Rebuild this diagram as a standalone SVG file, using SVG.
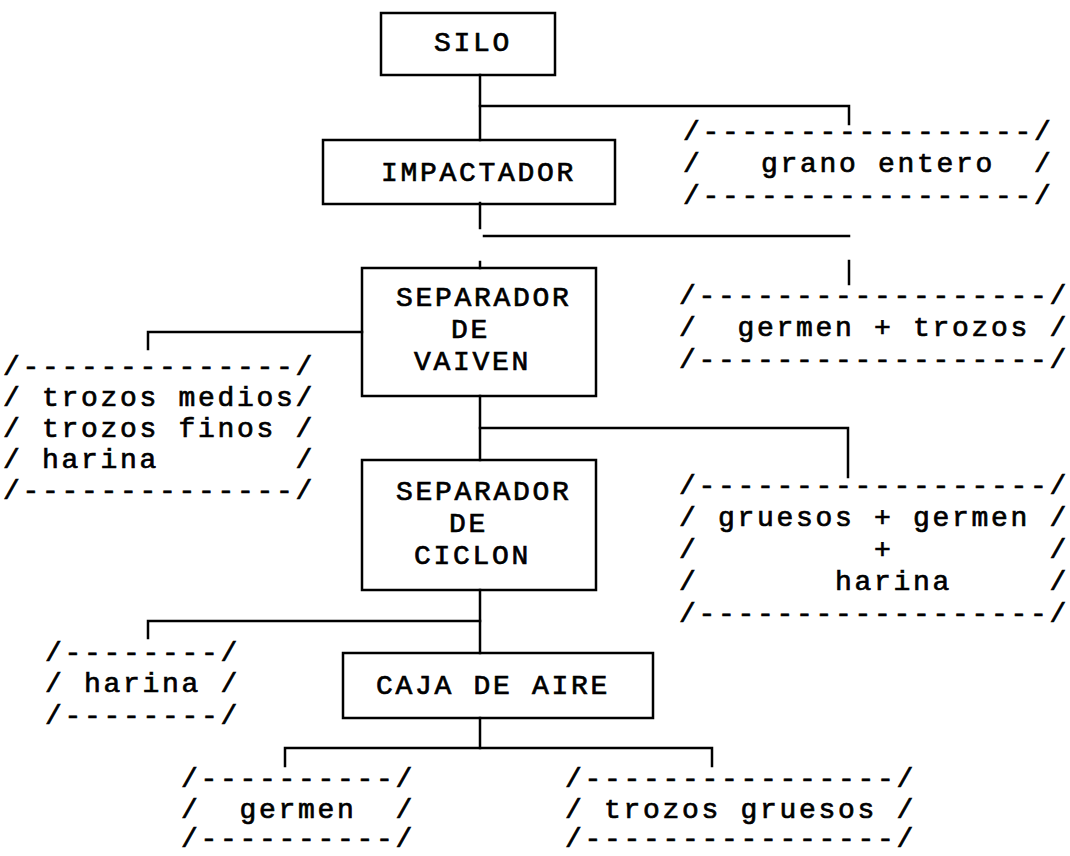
<svg xmlns="http://www.w3.org/2000/svg" width="1070" height="856" viewBox="0 0 1070 856" xml:space="preserve">
<style>
text{font-family:"Liberation Mono","Courier New",monospace;font-size:28px;letter-spacing:2.7px;fill:#000;stroke:#000;stroke-width:0.7;white-space:pre}
.box{fill:none;stroke:#000;stroke-width:2.5}
.ln{fill:none;stroke:#000;stroke-width:2.5;stroke-linecap:square}
</style>
<rect x="0" y="0" width="1070" height="856" fill="#fff"/>
<g id="connectors">
<polyline class="ln" points="480,75 480,140"/>
<polyline class="ln" points="480,106 849,106 849,124"/>
<polyline class="ln" points="480,203 480,228"/>
<polyline class="ln" points="484,236 849,236"/>
<polyline class="ln" points="849,261 849,284"/>
<polyline class="ln" points="480,262 480,268"/>
<polyline class="ln" points="362,332 148,332 148,349"/>
<polyline class="ln" points="480,396 480,460"/>
<polyline class="ln" points="480,428 848,428 848,477"/>
<polyline class="ln" points="480,590 480,653"/>
<polyline class="ln" points="480,621 148,621 148,638"/>
<polyline class="ln" points="480,718 480,748"/>
<polyline class="ln" points="285,766 285,748 712,748 712,766"/>
</g>
<g id="silo">
<rect class="box" x="381" y="13" width="174" height="62"/>
<text x="434" y="51">SILO</text>
</g>
<g id="impactador">
<rect class="box" x="323" y="140" width="292" height="64"/>
<text x="381" y="181">IMPACTADOR</text>
</g>
<g id="separador-vaiven">
<rect class="box" x="362" y="268" width="234" height="128"/>
<text x="396" y="306">SEPARADOR</text>
<text x="451" y="338">DE</text>
<text x="414" y="370">VAIVEN</text>
</g>
<g id="separador-ciclon">
<rect class="box" x="362" y="460" width="234" height="130"/>
<text x="396" y="500">SEPARADOR</text>
<text x="449" y="532">DE</text>
<text x="414" y="564">CICLON</text>
</g>
<g id="caja-aire">
<rect class="box" x="343" y="653" width="310" height="65"/>
<text x="376" y="694">CAJA DE AIRE</text>
</g>
<g id="out-grano-entero">
<text x="683" y="140">/-----------------/</text>
<text x="683" y="172">/   grano entero  /</text>
<text x="683" y="204">/-----------------/</text>
</g>
<g id="out-germen-trozos">
<text x="679" y="304">/------------------/</text>
<text x="679" y="336">/  germen + trozos /</text>
<text x="679" y="368">/------------------/</text>
</g>
<g id="out-trozos-medios">
<text x="3" y="375">/--------------/</text>
<text x="3" y="406">/ trozos medios/</text>
<text x="3" y="437">/ trozos finos /</text>
<text x="3" y="468">/ harina       /</text>
<text x="3" y="499">/--------------/</text>
</g>
<g id="out-gruesos-germen-harina">
<text x="679" y="494">/------------------/</text>
<text x="679" y="526">/ gruesos + germen /</text>
<text x="679" y="558">/         +        /</text>
<text x="679" y="590">/       harina     /</text>
<text x="679" y="622">/------------------/</text>
</g>
<g id="out-harina">
<text x="45" y="661">/--------/</text>
<text x="45" y="692">/ harina /</text>
<text x="45" y="724">/--------/</text>
</g>
<g id="out-germen">
<text x="181" y="787">/----------/</text>
<text x="181" y="818">/  germen  /</text>
<text x="181" y="847">/----------/</text>
</g>
<g id="out-trozos-gruesos">
<text x="565" y="787">/----------------/</text>
<text x="565" y="818">/ trozos gruesos /</text>
<text x="565" y="847">/----------------/</text>
</g>
</svg>
